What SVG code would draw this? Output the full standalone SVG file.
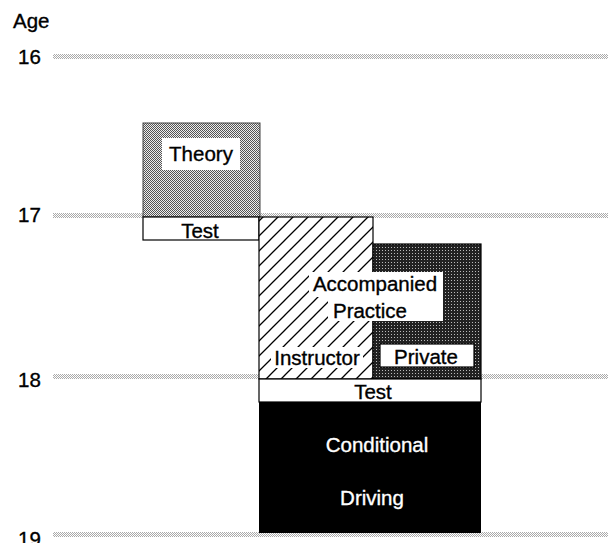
<svg xmlns="http://www.w3.org/2000/svg" width="608" height="543" viewBox="0 0 608 543">
<style>
text{font-family:"Liberation Sans",Arial,sans-serif;font-size:20.5px;fill:#000;stroke:#000;stroke-width:0.35}
.c{text-anchor:middle}
.w{fill:#fff;stroke:#fff}
.grid{fill:url(#gridPat)}
.box{stroke:#000;stroke-width:1.2}
</style>
<defs>
<pattern id="gridPat" width="2" height="2" patternUnits="userSpaceOnUse">
<rect width="2" height="2" fill="#fff"/>
<rect x="0" y="0" width="1" height="1" fill="#aaa"/>
<rect x="1" y="1" width="1" height="1" fill="#aaa"/>
</pattern>
<pattern id="lightPat" width="2" height="2" patternUnits="userSpaceOnUse">
<rect width="2" height="2" fill="#eee"/>
<rect x="0" y="0" width="1" height="1" fill="#555"/>
<rect x="1" y="1" width="1" height="1" fill="#555"/>
</pattern>
<pattern id="darkPat" width="3" height="3" patternUnits="userSpaceOnUse">
<rect width="3" height="3" fill="#222"/>
<rect x="1" y="1" width="1" height="1" fill="#bbb"/>
</pattern>
<pattern id="hatch" width="15" height="15" patternUnits="userSpaceOnUse">
<rect width="15" height="15" fill="#fff"/>
<path d="M0 15L15 0M-3 3L3 -3M12 18L18 12" stroke="#000" stroke-width="1.3"/>
</pattern>
</defs>

<g id="axis">
<text x="13" y="28">Age</text>
<text x="18" y="64">16</text>
<text x="18" y="222">17</text>
<text x="18" y="387">18</text>
<text x="18" y="546">19</text>
</g>

<g id="gridlines">
<rect class="grid" x="53" y="54" width="555" height="5"/>
<rect class="grid" x="53" y="213" width="555" height="5"/>
<rect class="grid" x="53" y="374" width="555" height="5"/>
<rect class="grid" x="53" y="532" width="555" height="5"/>
</g>

<g id="theory">
<rect x="143" y="123" width="117" height="94" fill="url(#lightPat)" stroke="#444" stroke-width="1"/>
<rect x="162" y="138" width="78" height="32" fill="#fff"/>
<text class="c" x="201" y="161">Theory</text>
</g>

<g id="test1">
<rect class="box" x="143" y="217" width="116" height="23" fill="#fff"/>
<text class="c" x="200" y="238">Test</text>
</g>

<g id="instructor">
<rect class="box" x="259" y="217" width="114" height="162" fill="url(#hatch)"/>
<rect x="271" y="347" width="92" height="21" fill="#fff"/>
<text class="c" x="317" y="365">Instructor</text>
</g>

<g id="private">
<rect class="box" x="373" y="244" width="108" height="135" fill="url(#darkPat)"/>
<rect class="box" x="380" y="344" width="94" height="23" fill="#fff"/>
<text class="c" x="426" y="364">Private</text>
</g>

<g id="accompanied">
<rect x="309" y="272" width="134" height="25" fill="#fff"/>
<rect x="328" y="297" width="115" height="24" fill="#fff"/>
<text class="c" x="375" y="291">Accompanied</text>
<text class="c" x="370" y="318">Practice</text>
</g>

<g id="test2">
<rect class="box" x="259" y="379" width="222" height="23" fill="#fff"/>
<text class="c" x="373" y="399">Test</text>
</g>

<g id="conditional">
<rect x="259" y="402" width="222" height="131" fill="#000"/>
<text class="c w" x="377" y="452">Conditional</text>
<text class="c w" x="372" y="505">Driving</text>
</g>

<g id="connectors"></g>
</svg>
